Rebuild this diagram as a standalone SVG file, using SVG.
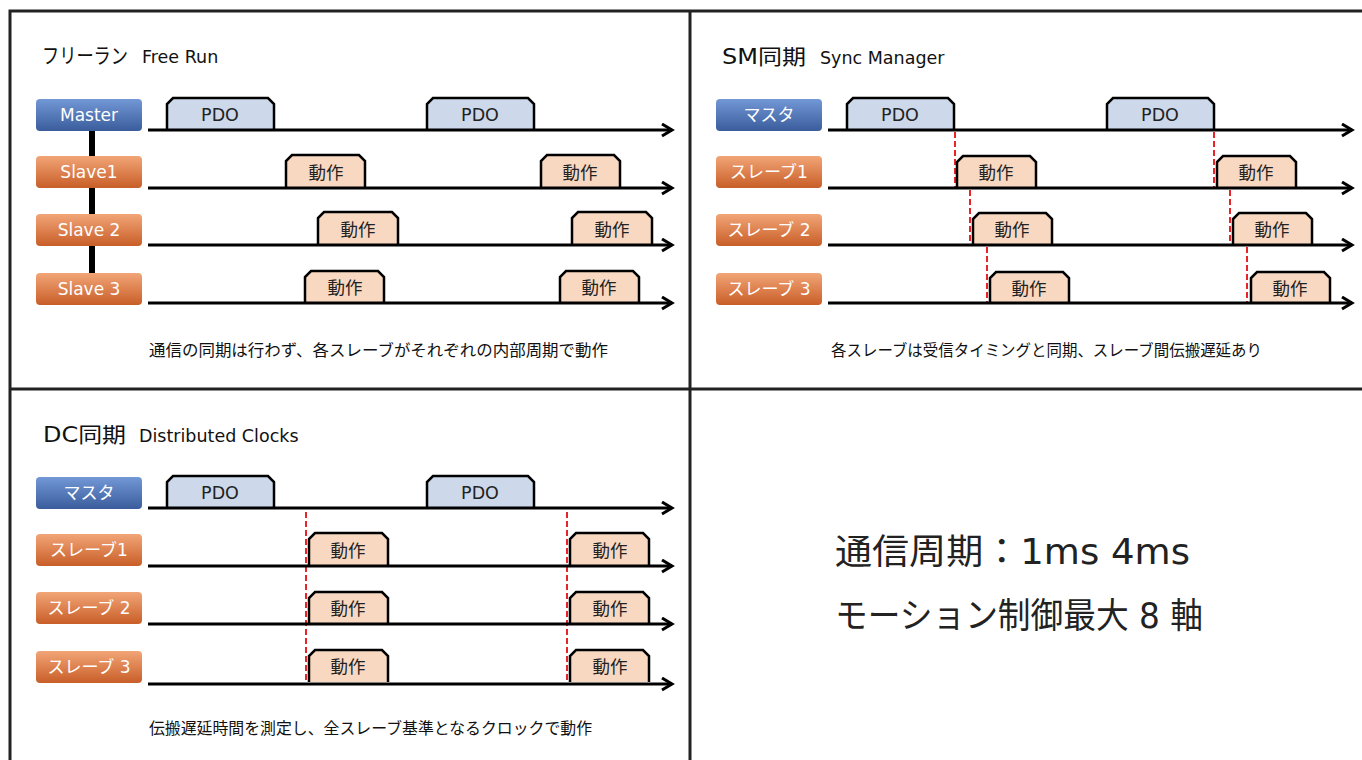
<svg xmlns="http://www.w3.org/2000/svg" width="1362" height="760" viewBox="0 0 1362 760">
<defs>
<linearGradient id="gBlue" x1="0" y1="0" x2="0" y2="1">
<stop offset="0" stop-color="#7398d6"/><stop offset="1" stop-color="#3a5c9c"/>
</linearGradient>
<linearGradient id="gOrange" x1="0" y1="0" x2="0" y2="1">
<stop offset="0" stop-color="#f2a577"/><stop offset="1" stop-color="#c85e28"/>
</linearGradient>
<marker id="arr" markerUnits="userSpaceOnUse" markerWidth="16" markerHeight="16" refX="12" refY="7" orient="auto">
<path d="M2,1 L12,7 L2,13" fill="none" stroke="#000" stroke-width="3"/>
</marker>
<style>
.frame{stroke:#222;stroke-width:3;fill:none}
.title{font-family:"DejaVu Sans","Noto Sans CJK JP",sans-serif;font-size:21px;fill:#111}
.sub{font-family:"DejaVu Sans","Noto Sans CJK JP",sans-serif;font-size:17.5px;fill:#111}
.lblB{fill:url(#gBlue)}
.lblO{fill:url(#gOrange)}
.lt{font-family:"DejaVu Sans","Noto Sans CJK JP",sans-serif;font-size:17px;fill:#fff;text-anchor:middle}
.tl{stroke:#000;stroke-width:3;fill:none;marker-end:url(#arr)}
.pdo{fill:#cdd9ea;stroke:#000;stroke-width:2.5}
.act{fill:#f9d8c2;stroke:#000;stroke-width:2.5}
.bt{font-family:"DejaVu Sans","Noto Sans CJK JP",sans-serif;font-size:17.5px;fill:#222;text-anchor:middle}
.red{stroke:#e8242a;stroke-width:2;stroke-dasharray:6,3;fill:none}
.cap{font-family:"Noto Sans CJK JP","DejaVu Sans",sans-serif;font-size:16px;fill:#111}
.big{font-family:"DejaVu Sans","Noto Sans CJK JP",sans-serif;font-size:35px;fill:#222}
</style>
</defs>
<rect width="1362" height="760" fill="#fff"/>

<g id="frame">
<path class="frame" d="M10,760 V11 H1362"/>
<path class="frame" d="M690,11 V760"/>
<path class="frame" d="M10,389 H1362"/>
</g>

<!-- Panel 1: Free Run -->
<g id="p1-title"><text class="title" x="42" y="63" font-size="21" textLength="86" lengthAdjust="spacingAndGlyphs">フリーラン</text><text class="sub" x="142" y="63">Free Run</text></g>
<g id="p1-bus"><rect x="89" y="128" width="6" height="148" fill="#000"/></g>
<g id="p1-master"><rect class="lblB" x="36" y="99" width="106" height="32" rx="4"/><text class="lt" x="89" y="121">Master</text></g>
<g id="p1-slave1"><rect class="lblO" x="36" y="156" width="106" height="32" rx="4"/><text class="lt" x="89" y="178">Slave1</text></g>
<g id="p1-slave2"><rect class="lblO" x="36" y="214" width="106" height="32" rx="4"/><text class="lt" x="89" y="236">Slave 2</text></g>
<g id="p1-slave3"><rect class="lblO" x="36" y="273" width="106" height="32" rx="4"/><text class="lt" x="89" y="295">Slave 3</text></g>
<g id="p1-blocks">
<path class="pdo" d="M167,130 V104 L173,98 H268 L274,104 V130"/><text class="bt" x="220" y="121">PDO</text>
<path class="pdo" d="M427,130 V104 L433,98 H528 L534,104 V130"/><text class="bt" x="480" y="121">PDO</text>
<path class="act" d="M286,188 V161 L292,155 H359 L365,161 V188"/><text class="bt" x="326" y="179">動作</text>
<path class="act" d="M541,188 V161 L547,155 H614 L620,161 V188"/><text class="bt" x="580" y="179">動作</text>
<path class="act" d="M318,245 V218 L324,212 H392 L398,218 V245"/><text class="bt" x="358" y="236">動作</text>
<path class="act" d="M572,245 V218 L578,212 H646 L652,218 V245"/><text class="bt" x="612" y="236">動作</text>
<path class="act" d="M305,303 V277 L311,271 H378 L384,277 V303"/><text class="bt" x="345" y="294">動作</text>
<path class="act" d="M560,303 V277 L566,271 H633 L639,277 V303"/><text class="bt" x="599" y="294">動作</text>
</g>
<g id="p1-connectors">
<line class="tl" x1="148" y1="130" x2="672" y2="130"/>
<line class="tl" x1="148" y1="188" x2="672" y2="188"/>
<line class="tl" x1="148" y1="245" x2="672" y2="245"/>
<line class="tl" x1="148" y1="303" x2="672" y2="303"/>
</g>
<text class="cap" x="149" y="356" textLength="459" lengthAdjust="spacingAndGlyphs">通信の同期は行わず、各スレーブがそれぞれの内部周期で動作</text>

<!-- Panel 2: SM -->
<g id="p2-title"><text class="title" x="722" y="64" textLength="84" lengthAdjust="spacingAndGlyphs">SM同期</text><text class="sub" x="820" y="64">Sync Manager</text></g>
<g id="p2-master"><rect class="lblB" x="716" y="99" width="106" height="32" rx="4"/><text class="lt" x="769" y="121">マスタ</text></g>
<g id="p2-slave1"><rect class="lblO" x="716" y="156" width="106" height="32" rx="4"/><text class="lt" x="769" y="178">スレーブ1</text></g>
<g id="p2-slave2"><rect class="lblO" x="716" y="214" width="106" height="32" rx="4"/><text class="lt" x="769" y="236">スレーブ 2</text></g>
<g id="p2-slave3"><rect class="lblO" x="716" y="273" width="106" height="32" rx="4"/><text class="lt" x="769" y="295">スレーブ 3</text></g>
<g id="p2-sync">
<line class="red" x1="955" y1="132" x2="955" y2="188"/>
<line class="red" x1="970" y1="190" x2="970" y2="245"/>
<line class="red" x1="987" y1="247" x2="987" y2="303"/>
<line class="red" x1="1214" y1="132" x2="1214" y2="188"/>
<line class="red" x1="1230" y1="190" x2="1230" y2="245"/>
<line class="red" x1="1247" y1="247" x2="1247" y2="303"/>
</g>
<g id="p2-blocks">
<path class="pdo" d="M847,130 V104 L853,98 H948 L954,104 V130"/><text class="bt" x="900" y="121">PDO</text>
<path class="pdo" d="M1107,130 V104 L1113,98 H1208 L1214,104 V130"/><text class="bt" x="1160" y="121">PDO</text>
<path class="act" d="M957,188 V162 L963,156 H1030 L1036,162 V188"/><text class="bt" x="996" y="179">動作</text>
<path class="act" d="M1217,188 V162 L1223,156 H1290 L1296,162 V188"/><text class="bt" x="1256" y="179">動作</text>
<path class="act" d="M973,245 V219 L979,213 H1046 L1052,219 V245"/><text class="bt" x="1012" y="236">動作</text>
<path class="act" d="M1233,245 V219 L1239,213 H1306 L1312,219 V245"/><text class="bt" x="1272" y="236">動作</text>
<path class="act" d="M990,303 V278 L996,272 H1063 L1069,278 V303"/><text class="bt" x="1029" y="295">動作</text>
<path class="act" d="M1251,303 V278 L1257,272 H1324 L1330,278 V303"/><text class="bt" x="1290" y="295">動作</text>
</g>
<g id="p2-connectors">
<line class="tl" x1="828" y1="130" x2="1352" y2="130"/>
<line class="tl" x1="828" y1="188" x2="1352" y2="188"/>
<line class="tl" x1="828" y1="245" x2="1352" y2="245"/>
<line class="tl" x1="828" y1="303" x2="1352" y2="303"/>
</g>
<text class="cap" x="831" y="356" textLength="431" lengthAdjust="spacingAndGlyphs">各スレーブは受信タイミングと同期、スレーブ間伝搬遅延あり</text>

<!-- Panel 3: DC -->
<g id="p3-title"><text class="title" x="43" y="442" textLength="83" lengthAdjust="spacingAndGlyphs">DC同期</text><text class="sub" x="139" y="442">Distributed Clocks</text></g>
<g id="p3-master"><rect class="lblB" x="36" y="477" width="106" height="32" rx="4"/><text class="lt" x="89" y="499">マスタ</text></g>
<g id="p3-slave1"><rect class="lblO" x="36" y="534" width="106" height="32" rx="4"/><text class="lt" x="89" y="556">スレーブ1</text></g>
<g id="p3-slave2"><rect class="lblO" x="36" y="592" width="106" height="32" rx="4"/><text class="lt" x="89" y="614">スレーブ 2</text></g>
<g id="p3-slave3"><rect class="lblO" x="36" y="651" width="106" height="32" rx="4"/><text class="lt" x="89" y="673">スレーブ 3</text></g>
<g id="p3-sync">
<line class="red" x1="306" y1="512" x2="306" y2="682"/>
<line class="red" x1="567" y1="512" x2="567" y2="682"/>
</g>
<g id="p3-blocks">
<path class="pdo" d="M167,508 V482 L173,476 H268 L274,482 V508"/><text class="bt" x="220" y="499">PDO</text>
<path class="pdo" d="M427,508 V482 L433,476 H528 L534,482 V508"/><text class="bt" x="480" y="499">PDO</text>
<path class="act" d="M309,566 V539 L315,533 H382 L388,539 V566"/><text class="bt" x="348" y="557">動作</text>
<path class="act" d="M570,566 V539 L576,533 H643 L649,539 V566"/><text class="bt" x="610" y="557">動作</text>
<path class="act" d="M309,624 V598 L315,592 H382 L388,598 V624"/><text class="bt" x="348" y="615">動作</text>
<path class="act" d="M570,624 V598 L576,592 H643 L649,598 V624"/><text class="bt" x="610" y="615">動作</text>
<path class="act" d="M309,682 V656 L315,650 H382 L388,656 V682"/><text class="bt" x="348" y="673">動作</text>
<path class="act" d="M570,682 V656 L576,650 H643 L649,656 V682"/><text class="bt" x="610" y="673">動作</text>
</g>
<g id="p3-connectors">
<line class="tl" x1="148" y1="508" x2="672" y2="508"/>
<line class="tl" x1="148" y1="566" x2="672" y2="566"/>
<line class="tl" x1="148" y1="624" x2="672" y2="624"/>
<line class="tl" x1="148" y1="684" x2="672" y2="684"/>
</g>
<text class="cap" x="149" y="734" textLength="443" lengthAdjust="spacingAndGlyphs">伝搬遅延時間を測定し、全スレーブ基準となるクロックで動作</text>

<!-- Panel 4 -->
<g id="p4-text">
<text class="big" x="835" y="564" textLength="355" lengthAdjust="spacingAndGlyphs">通信周期：1ms 4ms</text>
<text class="big" x="835" y="628" textLength="368" lengthAdjust="spacingAndGlyphs">モーション制御最大 8 軸</text>
</g>
</svg>
